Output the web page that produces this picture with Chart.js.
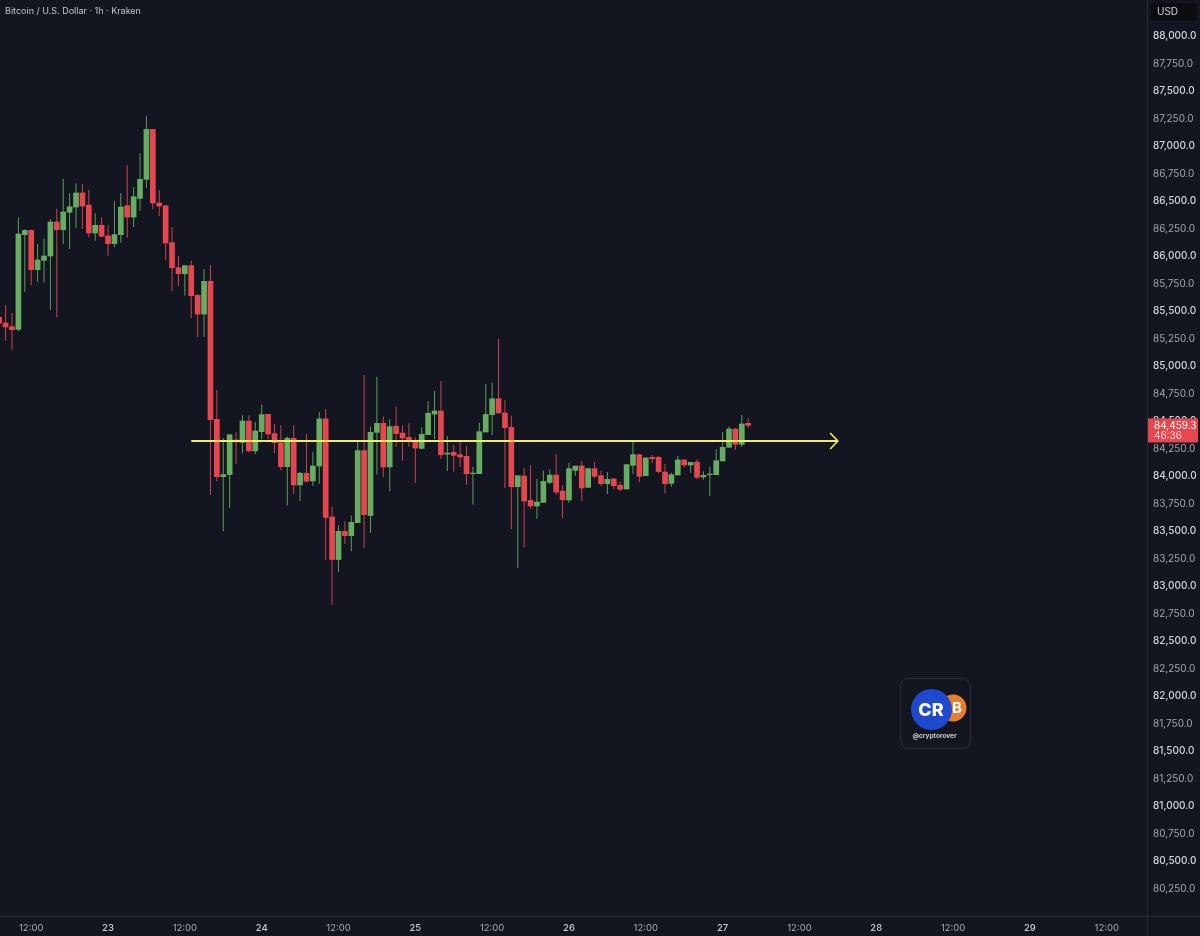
<!DOCTYPE html>
<html><head><meta charset="utf-8">
<style>html,body{margin:0;padding:0;background:#131621}canvas{display:block}</style>
<script src="https://cdn.jsdelivr.net/npm/chart.js@4"></script>
</head><body>
<div style="width:1200px;height:936px"><canvas id="c" width="1200" height="936"></canvas></div>
<script>
const chartTitle = "Bitcoin / U.S. Dollar · 1h · Kraken";
const currency = "USD";
const firstHour = 7; // hours counted from 22nd 00:00
const opens = [85442,85391,85358,85333,86194,86233,85876,85961,86000,86309,86239,86397,86445,86573,86463,86209,86279,86182,86112,86194,86457,86354,86524,86697,87151,86482,86457,86121,85894,85839,85912,85642,85472,85770,
84515,83994,84013,84328,84306,84500,84228,84403,84561,84385,84303,84085,84343,83919,84025,83955,84091,84519,83628,83240,83497,83458,83576,84231,83640,84397,84479,84082,84452,
84391,84351,84324,84251,84376,84563,84591,84200,84215,84194,84179,84021,84021,84400,84557,84703,84573,84442,83903,84000,83779,83727,83760,83942,84009,83863,83782,84051,84091,
83897,84067,84003,83930,83973,83915,83882,84097,84194,84003,84170,84170,84036,83933,84009,84146,84100,84127,83991,84012,84012,84136,84261,84427,84288,84479];
const highs = [85479,85552,85485,86351,86240,86240,86109,86158,86333,86430,86703,86570,86660,86654,86600,86388,86351,86279,86497,86570,86824,86624,86933,87273,87151,86600,86457,86261,86000,85912,85958,85655,85879,85915,
84782,84346,84376,84400,84552,84549,84494,84649,84561,84473,84461,84358,84458,84037,84382,84216,84582,84606,83722,83552,83588,83640,84313,84919,84449,84903,84540,84516,84631,
84460,84479,84351,84442,84679,84776,84863,84363,84285,84312,84273,84085,84485,84836,84851,85248,84691,84551,84003,84073,84097,83973,84051,84060,84200,83915,84121,84091,84133,
84073,84127,84049,84036,83979,83949,84109,84315,84200,84170,84194,84182,84109,84030,84182,84152,84127,84152,84043,84085,84243,84400,84449,84433,84555,84524];
const lows = [85345,85230,85145,85315,85673,85733,85767,85761,85509,85442,86109,86064,86254,86245,86170,86139,86176,86003,86079,86121,86167,86263,86412,86618,86424,86364,85964,85685,85727,85642,85436,85264,85264,83828,
83949,83497,83710,84110,84206,84216,84200,84334,84334,84206,84049,83731,83837,83770,83943,83910,83928,83237,82831,83128,83382,83316,83576,83346,83485,84013,83988,83861,84267,
84139,84267,83939,84242,84376,84333,84157,84045,84039,84085,83921,83742,84021,84400,84373,84573,83891,83515,83164,83351,83703,83612,83760,83927,83830,83615,83757,84003,83770,
83891,83979,83909,83837,83879,83864,83876,84018,83943,83997,84115,84027,83840,83903,84006,84079,84027,83970,83967,83818,84012,84136,84261,84236,84264,84433];
const closes = [85388,85355,85330,86200,86233,85876,85964,86000,86309,86239,86400,86448,86573,86454,86209,86279,86179,86112,86194,86445,86354,86539,86697,87151,86482,86454,86118,85894,85839,85912,85639,85472,85770,84512,
83994,84013,84376,84310,84500,84228,84409,84558,84382,84303,84085,84343,83919,84025,83952,84091,84519,83622,83240,83497,83458,83579,84231,83649,84397,84479,84082,84449,84385,
84345,84324,84254,84379,84570,84591,84194,84209,84188,84173,84021,84027,84403,84560,84703,84573,84439,83903,84003,83773,83727,83763,83951,84009,83854,83785,84067,84091,83891,
84067,83997,83930,83970,83912,83879,84103,84194,83997,84164,84158,84040,83930,84012,84146,84100,84124,83988,84006,84018,84139,84261,84427,84288,84473,84459.3];
const lastPrice = 84459.3;
const countdown = "46:36";
const levelPrice = 84318;
const levelHours = [37,138];
const arrowHeadHours = [136.8,138,136.8];
const arrowHeadPrices = [84391,84318,84245];
const xTickHours = [12,24,36,48,60,72,84,96,108,120,132,144,156,168,180];
const xTickLabels = ["12:00","23","12:00","24","12:00","25","12:00","26","12:00","27","12:00","28","12:00","29","12:00"];
const yTicks = [80250,80500,80750,81000,81250,81500,81750,82000,82250,82500,82750,83000,83250,83500,83750,84000,84250,84500,84750,85000,85250,85500,85750,86000,86250,86500,86750,87000,87250,87500,87750,88000];

const BG="#131621", GREEN="#66ad62", RED="#e6474f", WGREEN="#5c9c5a", WRED="#c9434c", LINE="#2a2d39", YEL="#f2ee5e";
const hours = opens.map((_,i)=>firstHour+i);
const up = closes.map((c,i)=>c>=opens[i]);
const fmt = v=>v.toLocaleString("en-US",{minimumFractionDigits:1,maximumFractionDigits:1});
const INTER = "Inter, 'Liberation Sans', sans-serif";

const overlay = {
  id:"overlay",
  beforeDraw(ch){const c=ch.ctx;c.save();c.fillStyle=BG;c.fillRect(0,0,ch.width,ch.height);c.restore();},
  afterDraw(ch){
    const c=ch.ctx, ys=ch.scales.y, axisX=ch.chartArea.right, axisY=ch.chartArea.bottom;
    c.save();
    c.strokeStyle=LINE;c.lineWidth=1;
    c.beginPath();c.moveTo(axisX+.5,0);c.lineTo(axisX+.5,ch.height);c.moveTo(0,axisY+.5);c.lineTo(ch.width,axisY+.5);c.stroke();
    c.textBaseline="middle";c.textAlign="left";
    c.fillStyle="#c2c4cc";c.font="9px "+INTER;
    c.fillText(chartTitle,5,11.5);
    // currency box
    c.fillStyle="#0c0d11";c.beginPath();c.roundRect(1151,3,46,18,3);c.fill();
    c.fillStyle="#d1d4dc";c.font="10px "+INTER;c.fillText(currency,1157,12);
    // last price label
    const py=ys.getPixelForValue(lastPrice);
    c.fillStyle="#e5484f";c.fillRect(axisX+1,py-7,50,24);
    c.fillStyle="#ffffff";c.font="10px "+INTER;c.fillText(fmt(lastPrice),1154,py+0.5);
    c.fillStyle="#ffd5d7";c.fillText(countdown,1154,py+10.5);
    // watermark
    c.fillStyle="#14161f";c.strokeStyle="#2b2e39";c.beginPath();c.roundRect(900.5,678.5,70,70,8);c.fill();c.stroke();
    c.fillStyle="#ea7d2c";c.beginPath();c.arc(953,708,13.5,0,Math.PI*2);c.fill();
    c.fillStyle="#fff";c.font="bold 15px "+INTER;c.textAlign="center";c.fillText("B",957,708.5);
    c.fillStyle="#1f49cf";c.beginPath();c.arc(931.5,709.5,20.5,0,Math.PI*2);c.fill();
    c.fillStyle="#fff";c.font="800 18px "+INTER;c.fillText("CR",931,710.5);
    c.fillStyle="#c9cbd1";c.font="bold 6.5px "+INTER;c.fillText("@cryptorover",934.5,736);
    c.restore();
  }
};

new Chart(document.getElementById("c"),{
  data:{datasets:[
    {type:"line",order:0,data:levelHours.map(h=>({x:h,y:levelPrice})),borderColor:YEL,borderWidth:2,pointRadius:0,tension:0},
    {type:"line",order:0,data:arrowHeadHours.map((h,i)=>({x:h,y:arrowHeadPrices[i]})),borderColor:YEL,borderWidth:1.6,pointRadius:0,tension:0},
    {type:"bar",order:1,grouped:false,barThickness:5,borderWidth:0,borderSkipped:false,
      data:hours.map((h,i)=>({x:h,y:[opens[i],closes[i]]})),backgroundColor:up.map(u=>u?GREEN:RED)},
    {type:"bar",order:2,grouped:false,barThickness:1,borderWidth:0,inflateAmount:0,borderSkipped:false,
      data:hours.map((h,i)=>({x:h,y:[lows[i],highs[i]]})),backgroundColor:up.map(u=>u?WGREEN:WRED)}
  ]},
  options:{
    responsive:false,animation:false,devicePixelRatio:1,
    layout:{padding:0},
    plugins:{legend:{display:false},tooltip:{enabled:false},title:{display:false}},
    scales:{
      x:{type:"linear",min:7.127,max:186.29,offset:false,
        grid:{display:false,drawTicks:false},border:{display:false},
        afterBuildTicks(s){s.ticks=xTickHours.map(v=>({value:v}));},
        afterFit(s){s.height=20;s.paddingLeft=0;s.paddingRight=0;},
        ticks:{autoSkip:false,maxRotation:0,minRotation:0,padding:6,align:"center",
          callback:(v,i)=>xTickLabels[i],
          color:c=>xTickLabels[c.index]==="12:00"?"#a9acb5":"#c8cad1",
          font:c=>({family:INTER,size:9.5,weight:xTickLabels[c.index]==="12:00"?"400":"500"})}
      },
      y:{type:"linear",position:"right",min:80000,max:88327.3,
        grid:{display:false,drawTicks:false},border:{display:false},
        afterBuildTicks(s){s.ticks=yTicks.map(v=>({value:v}));},
        afterFit(s){s.width=53;s.paddingTop=0;s.paddingBottom=0;},
        ticks:{autoSkip:false,padding:6,crossAlign:"near",
          callback:v=>fmt(v),
          color:c=>c.tick&&c.tick.value%500===0?"#d3d5db":"#a3a6af",
          font:c=>({family:INTER,size:10,weight:c.tick&&c.tick.value%500===0?"500":"400"})}
      }
    }
  },
  plugins:[overlay]
});
</script>
</body></html>
